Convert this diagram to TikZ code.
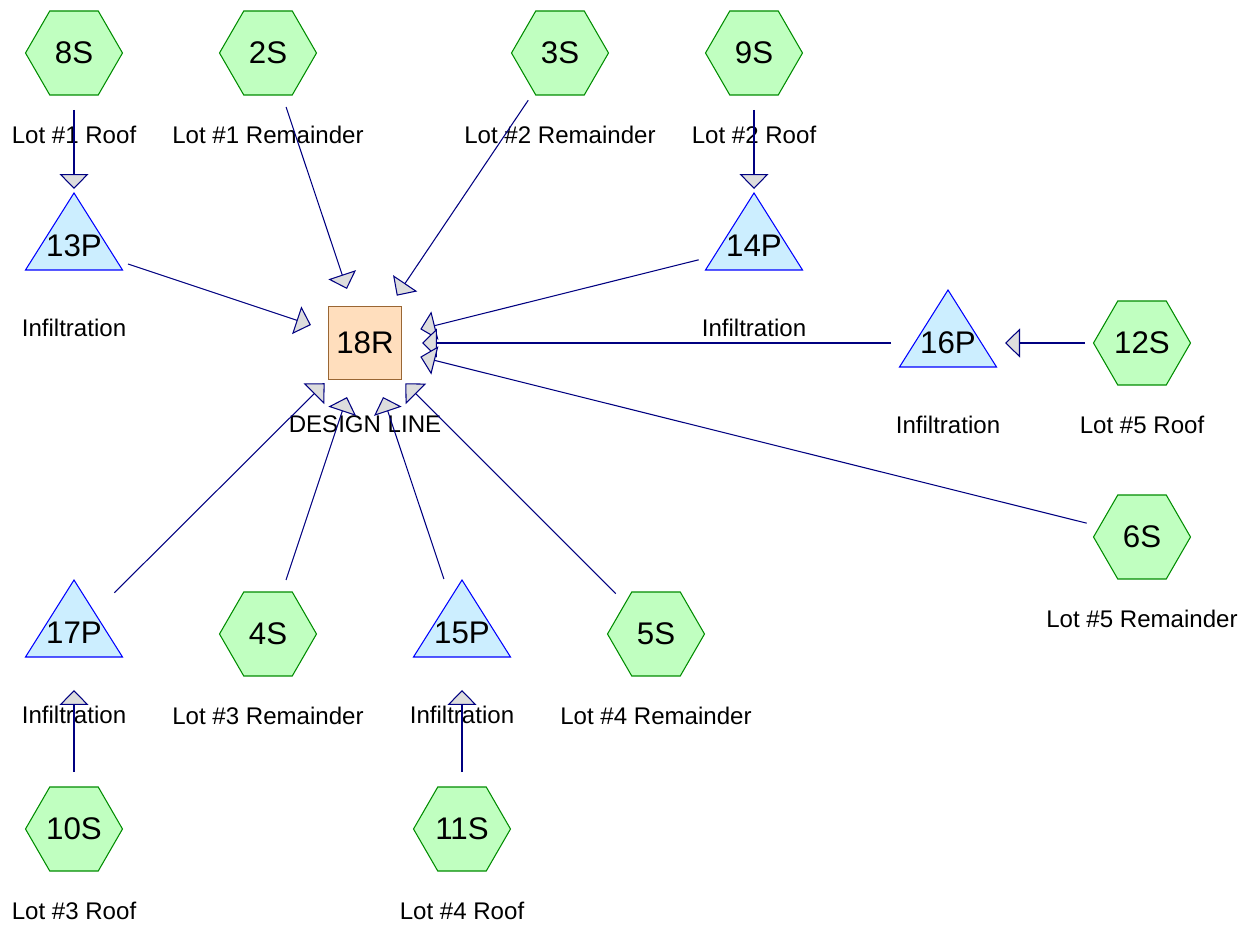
\documentclass[tikz,border=0pt]{standalone}
\usepackage{fontspec}
\setmainfont{Liberation Sans}
\usetikzlibrary{shapes.geometric, arrows.meta, calc, backgrounds}
\definecolor{subfill}{HTML}{C0FFC0}
\definecolor{subdraw}{HTML}{008C00}
\definecolor{pondfill}{HTML}{CCEEFF}
\definecolor{ponddraw}{HTML}{0000FF}
\definecolor{reachfill}{HTML}{FFDEBD}
\definecolor{reachdraw}{HTML}{996633}
\definecolor{linknavy}{HTML}{000080}
\definecolor{tipgray}{HTML}{DDDDDD}
\newcommand\idfont{\fontsize{17.8}{21}\selectfont}
\newcommand\lblfont{\fontsize{13.7}{16}\selectfont}

\begin{document}
\begin{tikzpicture}[x=0.02cm, y=-0.02cm,
    subcat/.style={draw=subdraw, fill=subfill, regular polygon, regular polygon sides=6, minimum size=1.94cm, inner sep=0pt, line width=0.6pt, font=\idfont},
    pond/.style={inner sep=0pt, font=\idfont},
    pondtri/.style={draw=ponddraw, fill=pondfill, line width=0.6pt},
    reach/.style={draw=reachdraw, fill=reachfill, minimum size=1.46cm, inner sep=0pt, line width=0.6pt, font=\idfont},
    tag/.style={label={[font=\lblfont, yshift=-1.63cm]center:#1}},
    link/.style={draw=linknavy, line width=0.6pt, shorten <=1.14cm, shorten >=1.14cm, -{Triangle[length=0.3cm, width=0.58cm, fill=tipgray]}}]

\useasboundingbox (0,0) rectangle (1253,925);

% Subcatchments
\node[subcat, tag={Lot \#1 Roof}] (8S) at (74,53) {8S};
\node[subcat, tag={Lot \#1 Remainder}] (2S) at (268,53) {2S};
\node[subcat, tag={Lot \#2 Remainder}] (3S) at (560,53) {3S};
\node[subcat, tag={Lot \#2 Roof}] (9S) at (754,53) {9S};
\node[subcat, tag={Lot \#5 Roof}] (12S) at (1142,343) {12S};
\node[subcat, tag={Lot \#5 Remainder}] (6S) at (1142,537) {6S};
\node[subcat, tag={Lot \#3 Remainder}] (4S) at (268,634) {4S};
\node[subcat, tag={Lot \#4 Remainder}] (5S) at (656,634) {5S};
\node[subcat, tag={Lot \#3 Roof}] (10S) at (74,829) {10S};
\node[subcat, tag={Lot \#4 Roof}] (11S) at (462,829) {11S};

% Ponds
\node[pond, tag=Infiltration] (13P) at (74,246) {13P};
\node[pond, tag=Infiltration] (14P) at (754,246) {14P};
\node[pond, tag=Infiltration] (16P) at (948,343) {16P};
\node[pond, tag=Infiltration] (17P) at (74,633) {17P};
\node[pond, tag=Infiltration] (15P) at (462,633) {15P};

% Reach
\node[reach, tag={DESIGN LINE}] (18R) at (365,343) {18R};

\begin{scope}[on background layer]
\foreach \p in {13P,14P,15P,16P,17P}
    \draw[pondtri] ($(\p)+(0,-53)$) -- ($(\p)+(-48.5,24)$) -- ($(\p)+(48.5,24)$) -- cycle;
\end{scope}

% Links
\draw[link] (8S.center) -- (13P.center);
\draw[link] (9S.center) -- (14P.center);
\draw[link] (12S.center) -- (16P.center);
\draw[link] (10S.center) -- (17P.center);
\draw[link] (11S.center) -- (15P.center);
\foreach \s in {2S,3S,13P,14P,16P,6S,17P,4S,15P,5S}
    \draw[link] (\s.center) -- (18R.center);

\end{tikzpicture}
\end{document}
